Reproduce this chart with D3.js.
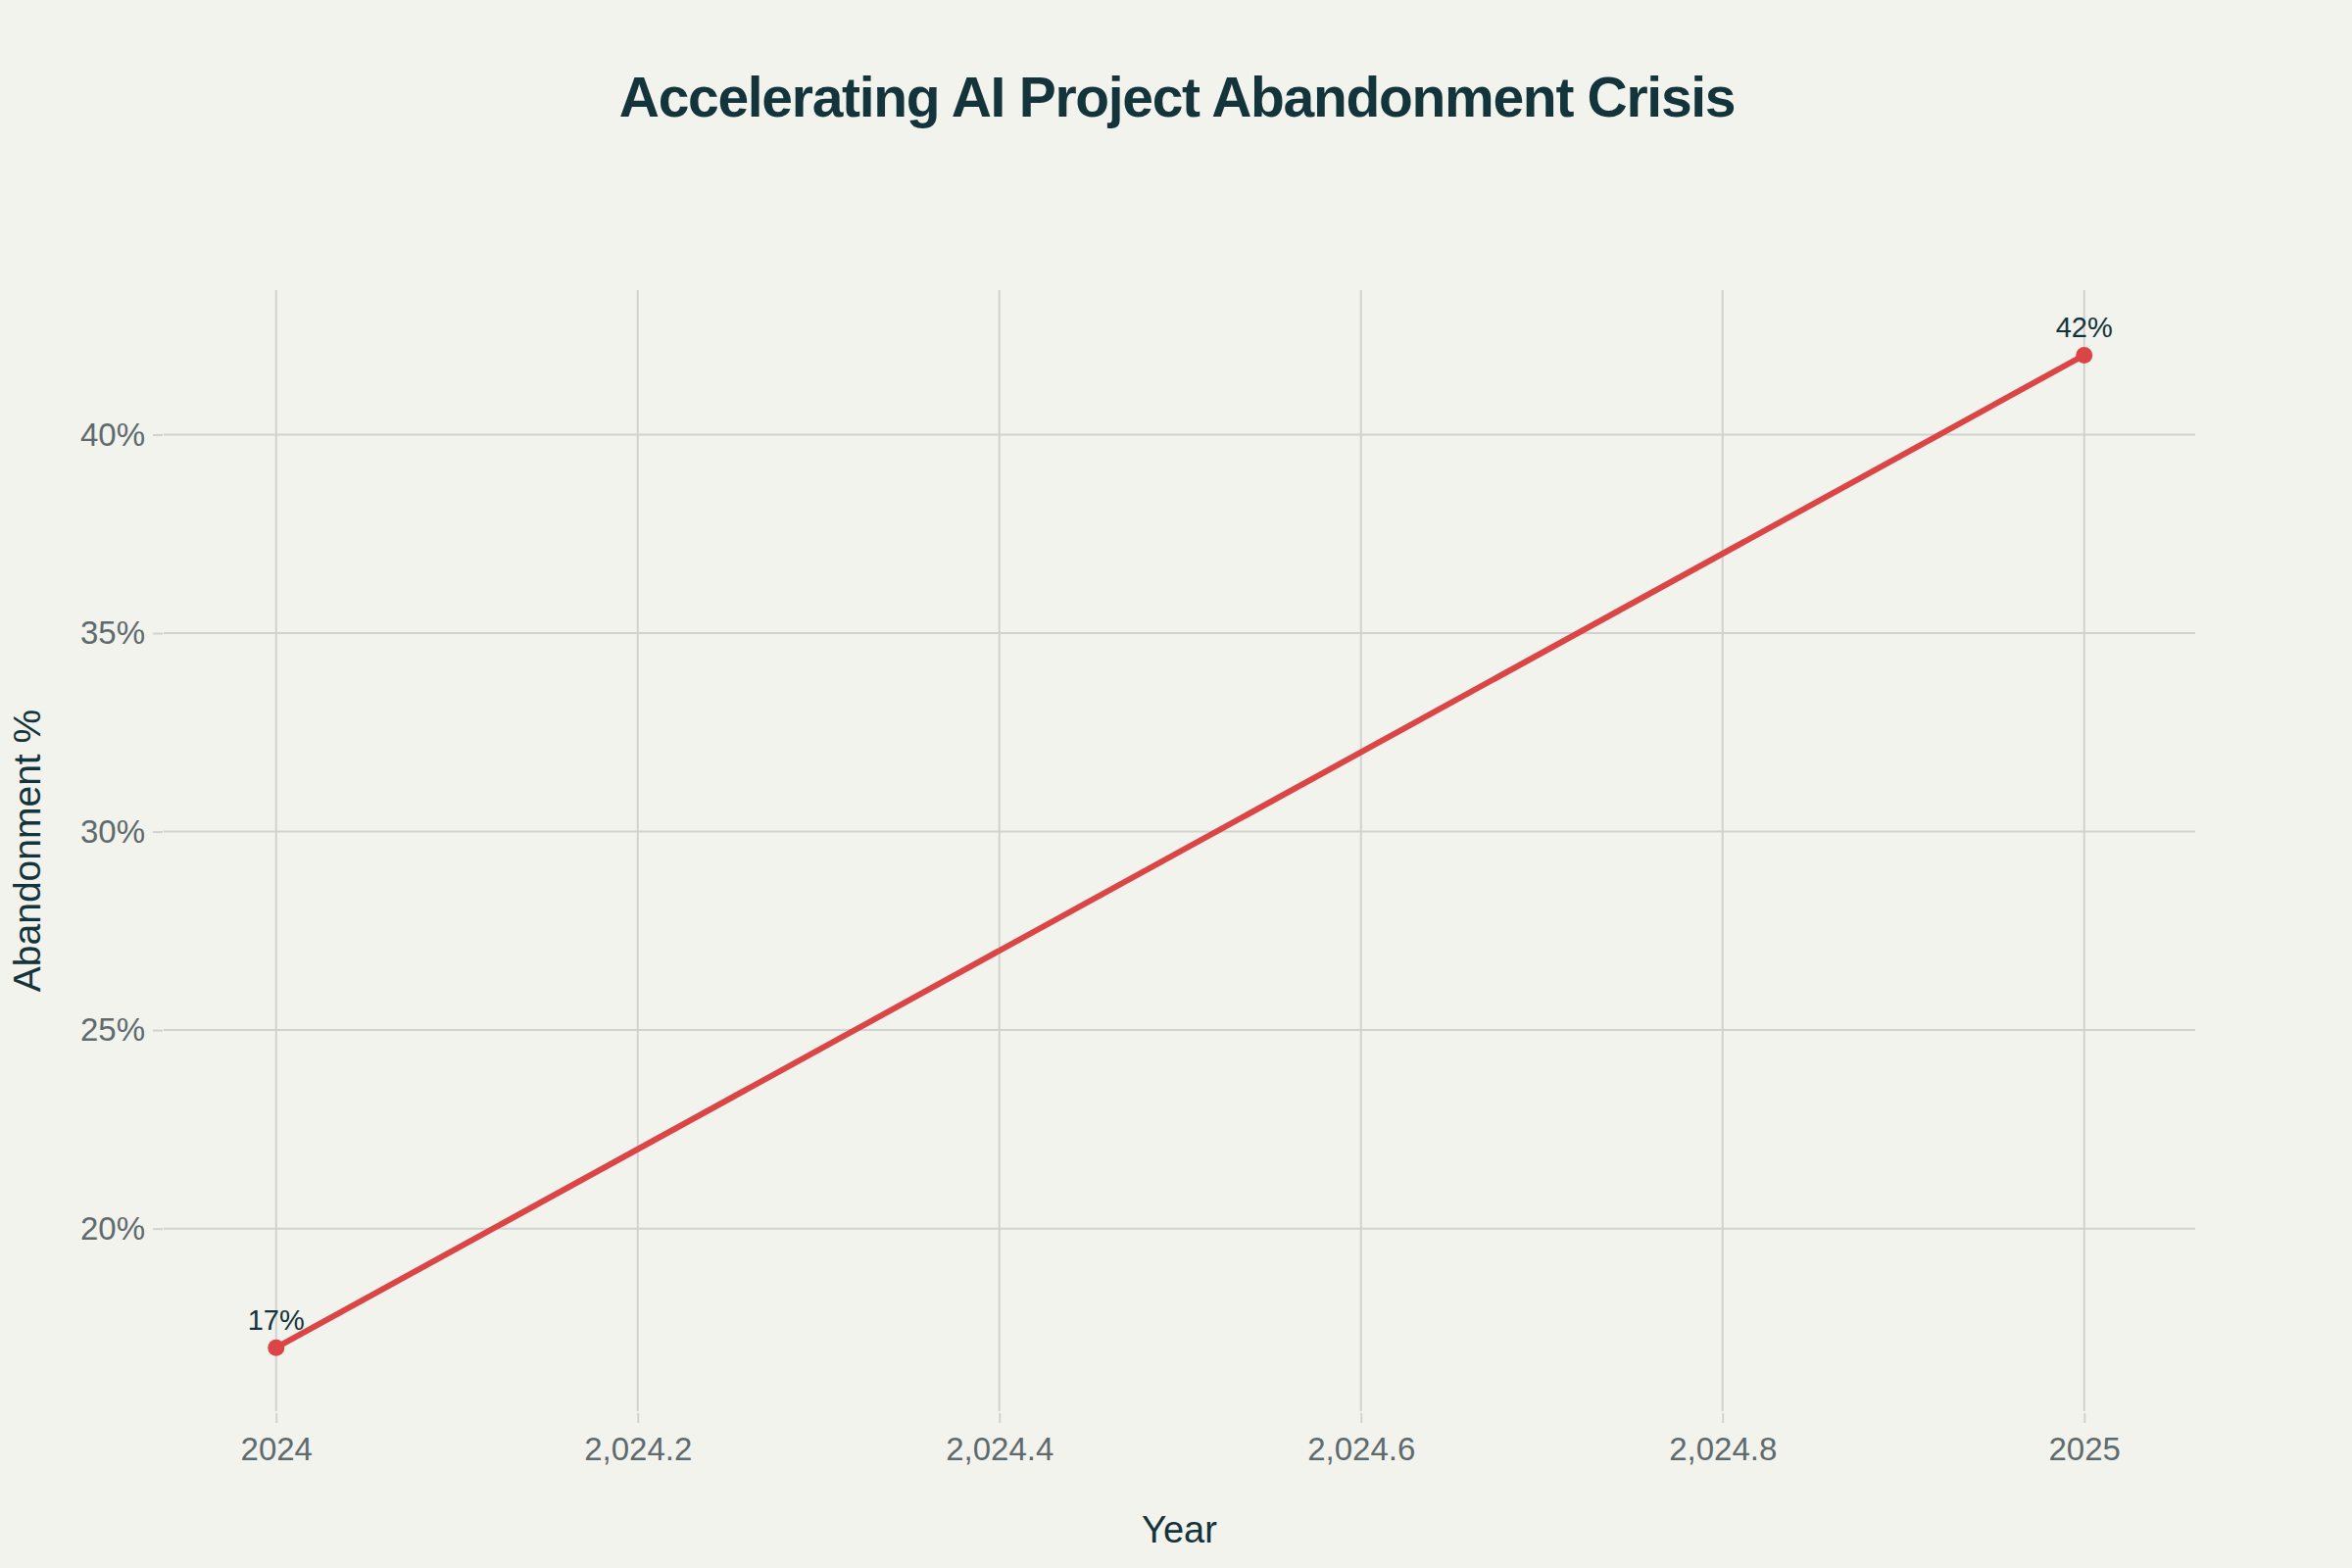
<!DOCTYPE html>
<html>
<head>
<meta charset="utf-8">
<script src="https://cdn.jsdelivr.net/npm/d3@7"></script>
<style>
  html, body { margin: 0; padding: 0; background: #F3F3EE; }
  svg { display: block; }
</style>
</head>
<body>
<svg id="chart" width="2400" height="1600"></svg>
<script>
// ---- data ----
const years = [2024, 2025];
const abandonment = [17, 42];
const pointLabels = ["17%", "42%"];
const xTickValues = [2024, 2024.2, 2024.4, 2024.6, 2024.8, 2025];
const xTickLabels = ["2024", "2,024.2", "2,024.4", "2,024.6", "2,024.8", "2025"];
const yTickValues = [20, 25, 30, 35, 40];
const yTickLabels = ["20%", "25%", "30%", "35%", "40%"];
const titleText = "Accelerating AI Project Abandonment Crisis";
const xTitle = "Year";
const yTitle = "Abandonment %";

// ---- layout ----
const W = 2400, H = 1600;
const plot = { left: 167, right: 2240, top: 296, bottom: 1440 };
const FONT = "'Liberation Sans', Arial, sans-serif";
const gridColor = "#D1D2CD";
const tickTextColor = "#5F6A6D";
const darkColor = "#13343B";
const lineColor = "#DB4545";

const svg = d3.select("#chart");
svg.append("rect").attr("width", W).attr("height", H).attr("fill", "#F3F3EE");

const x = d3.scaleLinear().domain([2023.9378, 2025.0614]).range([plot.left, plot.right]);
const y = d3.scaleLinear().domain([15.40, 43.64]).range([plot.bottom, plot.top]);

// grid
const grid = svg.append("g");
grid.selectAll("line.v").data(xTickValues).join("line")
  .attr("x1", d => x(d)).attr("x2", d => x(d))
  .attr("y1", plot.top).attr("y2", plot.bottom)
  .attr("stroke", gridColor).attr("stroke-width", 2);
grid.selectAll("line.h").data(yTickValues).join("line")
  .attr("x1", plot.left).attr("x2", plot.right)
  .attr("y1", d => y(d)).attr("y2", d => y(d))
  .attr("stroke", gridColor).attr("stroke-width", 2);

// axes
const xAxis = d3.axisBottom(x).tickValues(xTickValues)
  .tickFormat((d, i) => xTickLabels[i]).tickSize(10).tickPadding(15);
const gx = svg.append("g").attr("transform", `translate(0,${plot.bottom + 2})`).call(xAxis);
gx.select(".domain").remove();
gx.selectAll(".tick line").attr("stroke", gridColor).attr("stroke-width", 2);
gx.selectAll(".tick text").attr("fill", tickTextColor)
  .style("font-family", FONT).style("font-size", "33px");

const yAxis = d3.axisLeft(y).tickValues(yTickValues)
  .tickFormat((d, i) => yTickLabels[i]).tickSize(10).tickPadding(8);
const gy = svg.append("g").attr("transform", `translate(${plot.left - 1},0)`).call(yAxis);
gy.select(".domain").remove();
gy.selectAll(".tick line").attr("stroke", gridColor).attr("stroke-width", 2);
gy.selectAll(".tick text").attr("fill", tickTextColor)
  .style("font-family", FONT).style("font-size", "33px");

// line
const pts = years.map((yr, i) => ({ x: yr, y: abandonment[i], label: pointLabels[i] }));
svg.append("path").datum(pts)
  .attr("d", d3.line().x(d => x(d.x)).y(d => y(d.y)))
  .attr("fill", "none").attr("stroke", lineColor).attr("stroke-width", 6)
  .attr("stroke-linejoin", "round");
svg.selectAll("circle.pt").data(pts).join("circle")
  .attr("cx", d => x(d.x)).attr("cy", d => y(d.y)).attr("r", 8.5)
  .attr("fill", lineColor);
svg.selectAll("text.pl").data(pts).join("text")
  .attr("x", d => x(d.x)).attr("y", d => y(d.y) - 18)
  .attr("text-anchor", "middle").attr("fill", darkColor)
  .style("font-family", FONT).style("font-size", "29px")
  .text(d => d.label);

// titles
svg.append("text").attr("x", 1201).attr("y", 119)
  .attr("text-anchor", "middle").attr("fill", darkColor)
  .style("font-family", FONT).style("font-size", "57px").style("font-weight", "bold")
  .style("letter-spacing", "-1.3px")
  .text(titleText);

svg.append("text").attr("x", (plot.left + plot.right) / 2).attr("y", 1574)
  .attr("text-anchor", "middle").attr("fill", darkColor)
  .style("font-family", FONT).style("font-size", "38px")
  .text(xTitle);

svg.append("text")
  .attr("transform", `translate(41,${(plot.top + plot.bottom) / 2}) rotate(-90)`)
  .attr("text-anchor", "middle").attr("fill", darkColor)
  .style("font-family", FONT).style("font-size", "39px")
  .text(yTitle);
</script>
</body>
</html>
